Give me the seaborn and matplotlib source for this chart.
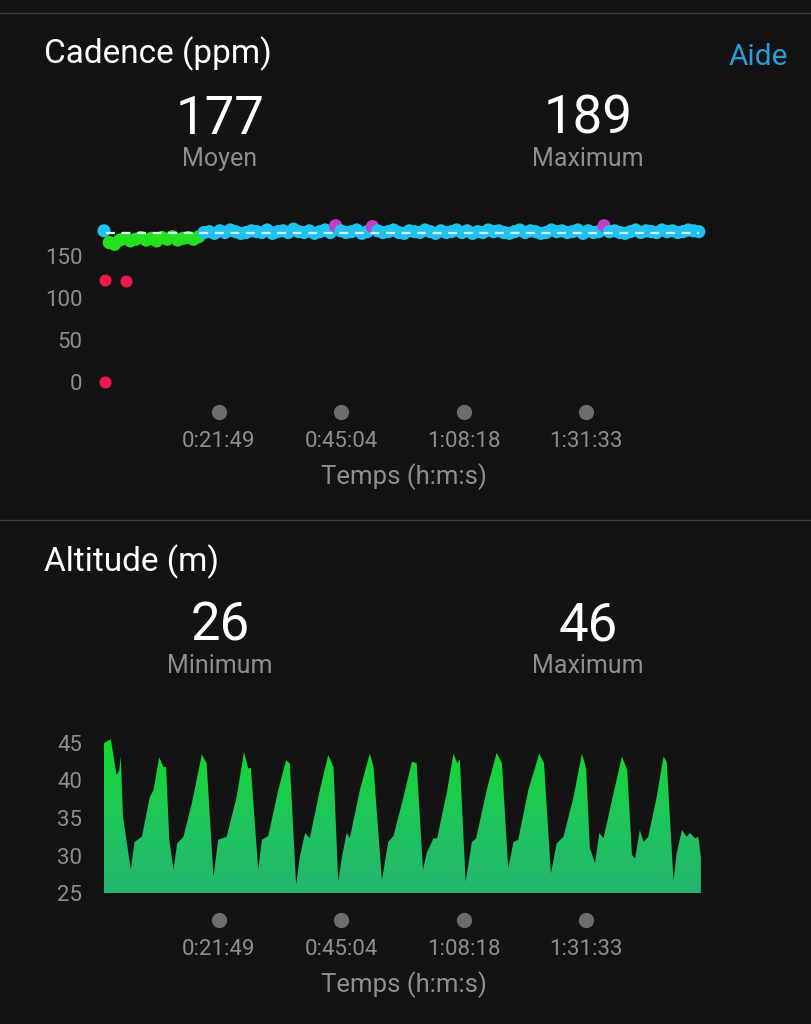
import numpy as np
import seaborn as sns
import matplotlib.pyplot as plt
from matplotlib.colors import LinearSegmentedColormap
from matplotlib.lines import Line2D

# Cadence (ppm), one sample per minute of the run
cadence = [180,
           166, 164, 169, 171, 168, 170, 172, 169, 171, 168,
           172, 170, 173, 169, 171, 172, 170, 173,
           178, 179, 177, 180, 178, 181, 179, 177, 178, 180,
           179, 178, 181, 177, 179, 180, 178, 182, 179, 178,
           180, 177, 179, 181, 178, 186, 180, 178, 179, 181,
           177, 179, 185, 180, 178, 179, 181, 178, 177, 180,
           179, 178, 181, 179, 177, 180, 178, 179, 181, 178,
           180, 177, 179, 178, 181, 179, 180, 178, 177, 179,
           181, 178, 180, 179, 177, 178, 181, 179, 180, 178,
           179, 181, 177, 180, 178, 179, 186, 179, 180, 178,
           177, 179, 181, 178, 180, 179, 178, 181, 179, 180,
           178, 179, 181, 180, 179]
# a few low samples at the start (time in min, ppm)
low_time = [0.2, 0.2, 4.2]
low_cadence = [0, 122, 120]
cad_avg = 177
cad_max = 189

# Altitude (m) vs time (min)
alt_time = [0.0, 1.3, 2.4, 2.9, 3.2, 3.6, 5.1, 5.8, 7.2, 8.7, 9.4, 10.5, 11.3, 11.8,
            12.4, 13.2, 13.9, 15.1, 16.7, 18.6, 19.5, 20.8, 21.7, 23.3, 25.2, 26.6,
            27.4, 27.9, 29.3, 30.0, 31.2, 33.1, 34.6, 35.3, 36.5, 37.2, 38.2, 39.1,
            41.0, 42.6, 43.6, 44.5, 45.2, 46.1, 46.7, 48.6, 50.5, 51.2, 52.8, 54.0,
            55.0, 56.9, 58.5, 59.4, 60.6, 61.3, 62.6, 63.3, 65.1, 66.4, 67.1, 67.6,
            68.7, 69.9, 70.7, 72.7, 74.6, 75.6, 76.8, 77.8, 78.7, 80.6, 82.7, 83.6,
            84.9, 86.0, 87.3, 89.2, 90.8, 91.6, 92.3, 93.3, 94.1, 94.9, 96.8, 98.4,
            99.4, 100.3, 100.9, 101.8, 102.5, 103.4, 105.0, 106.3, 106.9, 108.2,
            108.8, 109.8, 110.7, 111.3, 112.3, 112.9, 113.4]
altitude = [45.0, 45.5, 40.7, 41.4, 43.2, 35.2, 28.1, 31.8, 32.5, 37.8, 38.7, 43.1, 41.8, 41.8,
            32.1, 28.1, 31.6, 32.5, 37.0, 43.5, 42.3, 27.2, 32.1, 32.5, 37.8, 43.8,
            41.6, 41.7, 28.1, 32.1, 32.6, 38.7, 42.7, 42.3, 26.1, 29.8, 33.0, 32.3,
            38.7, 43.4, 41.8, 26.5, 29.8, 33.0, 32.3, 38.7, 43.6, 41.8, 26.7, 31.8,
            32.6, 37.8, 42.5, 42.3, 28.1, 30.3, 32.3, 32.3, 38.3, 43.6, 42.3, 42.8,
            26.5, 31.8, 32.3, 38.7, 43.7, 42.3, 28.3, 31.8, 32.1, 38.7, 43.6, 42.3,
            27.6, 31.6, 32.5, 37.8, 43.6, 41.6, 31.0, 29.0, 33.0, 32.3, 38.3, 43.2,
            41.4, 30.1, 29.6, 33.4, 31.8, 32.5, 37.8, 43.2, 42.5, 26.7,
            30.3, 33.4, 32.5, 33.0, 32.3, 32.5, 29.8]
alt_min = 26
alt_max = 46

tick_min = [21.82, 45.07, 68.30, 91.55]
tick_labels = ['0:21:49', '0:45:04', '1:08:18', '1:31:33']

BG = '#131313'
GRAY = '#8e8e8e'
W, H = 811, 1024

sns.set_theme(style='dark', rc={'axes.facecolor': BG, 'figure.facecolor': BG})
plt.rcParams['font.family'] = ['Roboto', 'DejaVu Sans']


def zone_color(v):
    if v > 183:
        return '#c23ec6'
    if v >= 174:
        return '#1fc2ef'
    if v >= 164:
        return '#25e01c'
    return '#f0194c'


def add_ax(left, top, right, bottom):
    return fig.add_axes([left / W, 1 - bottom / H, (right - left) / W, (bottom - top) / H])


def ftext(x, y, s, **kw):
    fig.text(x / W, 1 - y / H, s, va='center', **kw)


def style_time_axis(ax, dot_y, pad):
    ax.set_xlim(0, 113.8)
    ax.set_xticks(tick_min, tick_labels)
    ax.tick_params(axis='x', length=0, pad=pad, labelsize=16, labelcolor=GRAY)
    ax.tick_params(axis='y', length=0, pad=15.5, labelsize=16, labelcolor=GRAY)
    ax.plot(tick_min, [dot_y] * len(tick_min), 'o', color='#6c6c6c', ms=10,
            transform=ax.get_xaxis_transform(), clip_on=False)
    ax.set_xlabel('Temps (h:m:s)', color=GRAY, fontsize=18.5, labelpad=8)
    ax.set_ylabel('')
    ax.grid(False)
    for s in ax.spines.values():
        s.set_visible(False)


fig = plt.figure(figsize=(W / 100, H / 100), dpi=100, facecolor=BG)
for y in (13, 520):
    fig.add_artist(Line2D([0, 1], [1 - y / H] * 2, color='#3c3c3c', lw=1))

# ---- Cadence panel ----
ftext(44, 54, 'Cadence (ppm)', color='white', fontsize=24)
ftext(788, 57, 'Aide', color='#2d9ad6', fontsize=21.5, ha='right')
ftext(220, 119, str(cad_avg), color='white', fontsize=38, ha='center')
ftext(588, 119, str(cad_max), color='white', fontsize=38, ha='center')
ftext(220, 159, 'Moyen', color=GRAY, fontsize=18, ha='center')
ftext(588, 159, 'Maximum', color=GRAY, fontsize=18, ha='center')

ax1 = add_ax(104, 210, 703, 395)
cad_t = list(range(len(cadence)))
sns.scatterplot(x=cad_t, y=cadence, hue=cad_t, palette=[zone_color(v) for v in cadence],
                s=90, linewidth=0, legend=False, ax=ax1, zorder=3, clip_on=False)
sns.scatterplot(x=low_time, y=low_cadence, color=zone_color(0), s=75, linewidth=0,
                legend=False, ax=ax1, zorder=3, clip_on=False)
ax1.plot([0.3, 113], [cad_avg, cad_avg], color='#d6f4ff', lw=1.6, dashes=(4, 3), zorder=4)
ax1.set_ylim(-15.5, 204.8)
ax1.set_yticks([0, 50, 100, 150])
style_time_axis(ax1, -0.092, 26)

# ---- Altitude panel ----
ftext(44, 562, 'Altitude (m)', color='white', fontsize=24)
ftext(220, 626, str(alt_min), color='white', fontsize=38, ha='center')
ftext(588, 626, str(alt_max), color='white', fontsize=38, ha='center')
ftext(220, 666, 'Minimum', color=GRAY, fontsize=18, ha='center')
ftext(588, 666, 'Maximum', color=GRAY, fontsize=18, ha='center')

ax2 = add_ax(104, 725, 703, 893)
poly = ax2.fill_between(alt_time, 25, altitude, color='none', lw=0)
cmap = LinearSegmentedColormap.from_list('alt', ['#24b670', '#1fc75a', '#12da2a'])
grad = np.linspace(0, 1, 256).reshape(-1, 1)
im = ax2.imshow(grad, cmap=cmap, aspect='auto', origin='lower',
                extent=[0, max(alt_time), 25, max(altitude)], zorder=2)
im.set_clip_path(poly.get_paths()[0], transform=ax2.transData)
ax2.set_ylim(25, 47.4)
ax2.set_yticks([25, 30, 35, 40, 45])
style_time_axis(ax2, -0.161, 33)

fig.savefig('out.png', dpi=100, facecolor=BG)
